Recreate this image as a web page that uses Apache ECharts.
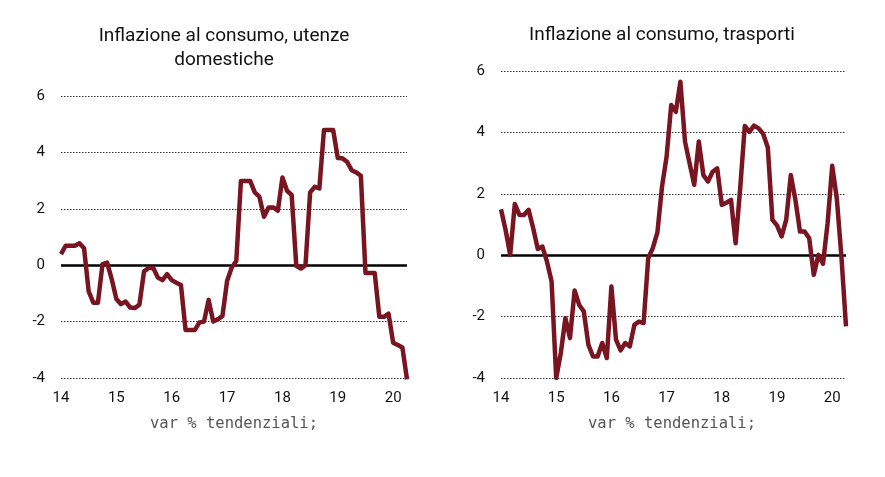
<!DOCTYPE html>
<html><head><meta charset="utf-8">
<script src="https://cdn.jsdelivr.net/npm/echarts@6/dist/echarts.min.js"></script>
<style>html,body{margin:0;padding:0;background:#fff}#c{width:885px;height:477px}</style>
</head><body><div id="c"></div>
<script>
// Months Jan 2014 .. Apr 2020
const months = [];
for (let y = 2014; y <= 2020; y++) for (let m = 1; m <= 12; m++) if (!(y === 2020 && m > 4)) months.push(y + '-' + String(m).padStart(2, '0'));
const yearLabels = ['14','15','16','17','18','19','20'];
const yTicks = [-4,-2,0,2,4,6];

const utenze = [0.39,0.69,0.69,0.69,0.78,0.6,-0.93,-1.33,-1.33,0.04,0.09,-0.5,
 -1.2,-1.38,-1.29,-1.5,-1.52,-1.4,-0.22,-0.1,-0.1,-0.44,-0.53,-0.32,
 -0.53,-0.62,-0.7,-2.3,-2.3,-2.3,-2.03,-2.0,-1.23,-2.0,-1.92,-1.8,
 -0.56,-0.08,0.15,2.99,2.99,2.99,2.58,2.43,1.72,2.05,2.05,1.93,
 3.11,2.64,2.49,-0.02,-0.12,0,2.58,2.78,2.72,4.79,4.79,4.79,
 3.8,3.79,3.67,3.37,3.29,3.17,-0.28,-0.28,-0.28,-1.83,-1.83,-1.72,
 -2.75,-2.83,-2.92,-4.05];

const trasporti = [1.5,0.82,0.01,1.67,1.31,1.31,1.48,0.88,0.2,0.28,-0.21,-0.86,
 -4.0,-3.19,-2.05,-2.7,-1.15,-1.62,-1.83,-2.92,-3.3,-3.3,-2.86,-3.35,
 -1.02,-2.75,-3.1,-2.86,-2.97,-2.27,-2.16,-2.21,-0.1,0.23,0.74,2.23,
 3.21,4.89,4.67,5.65,3.7,2.99,2.29,3.7,2.61,2.4,2.72,2.83,
 1.64,1.71,1.8,0.39,2.18,4.21,4.02,4.22,4.13,3.95,3.51,1.15,
 0.97,0.61,1.15,2.61,1.8,0.77,0.77,0.55,-0.64,0.01,-0.28,1.04,
 2.91,1.85,-0.04,-2.32];

const titles = [['Inflazione al consumo, utenze', 'domestiche'], ['Inflazione al consumo, trasporti']];
const subtitle = 'var % tendenziali;';

const LINE = '#781520';
const FONT = 'Roboto';

function xAxisFor(gi) {
  return {
    type: 'category', gridIndex: gi, data: months, boundaryGap: false,
    axisLine: {show: false}, axisTick: {show: false}, splitLine: {show: false},
    axisLabel: {
      interval: (i) => i % 12 === 0,
      formatter: (v, i) => yearLabels[Math.floor(i / 12)],
      color: '#111', fontFamily: FONT, fontSize: 15, margin: 13
    }
  };
}
function yAxisFor(gi) {
  return {
    type: 'value', gridIndex: gi, min: yTicks[0], max: yTicks[yTicks.length - 1], interval: 2,
    axisLine: {show: false}, axisTick: {show: false},
    axisLabel: {color: '#111', fontFamily: FONT, fontSize: 15, margin: 16},
    splitLine: {show: true, lineStyle: {color: '#333', width: 1, type: [1.5, 1.5]}}
  };
}
function seriesFor(gi, data) {
  return {
    type: 'line', xAxisIndex: gi, yAxisIndex: gi, data: data, symbol: 'none',
    lineStyle: {color: LINE, width: 4.5, join: 'round'}, z: 3,
    markLine: {silent: true, symbol: 'none', label: {show: false}, z: 2,
      lineStyle: {color: '#000', width: 2.5, type: 'solid'}, data: [{yAxis: 0}]}
  };
}

const chart = echarts.init(document.getElementById('c'), null, {renderer: 'canvas'});
chart.setOption({
  backgroundColor: '#fff',
  animation: false,
  grid: [
    {left: 61, top: 96, width: 346, height: 282},
    {left: 501, top: 71, width: 345, height: 307}
  ],
  xAxis: [xAxisFor(0), xAxisFor(1)],
  yAxis: [yAxisFor(0), yAxisFor(1)],
  series: [seriesFor(0, utenze), seriesFor(1, trasporti)],
  graphic: [
    {type: 'text', x: 224, y: 36, style: {text: titles[0][0], font: '19px Roboto', fill: '#111', align: 'center', verticalAlign: 'middle'}},
    {type: 'text', x: 224, y: 60, style: {text: titles[0][1], font: '19px Roboto', fill: '#111', align: 'center', verticalAlign: 'middle'}},
    {type: 'text', x: 662, y: 35, style: {text: titles[1][0], font: '19px Roboto', fill: '#111', align: 'center', verticalAlign: 'middle'}},
    {type: 'text', x: 234, y: 424, style: {text: subtitle, font: '15.5px "DejaVu Sans Mono"', fill: '#555', align: 'center', verticalAlign: 'middle'}},
    {type: 'text', x: 672, y: 424, style: {text: subtitle, font: '15.5px "DejaVu Sans Mono"', fill: '#555', align: 'center', verticalAlign: 'middle'}}
  ]
});
</script></body></html>
